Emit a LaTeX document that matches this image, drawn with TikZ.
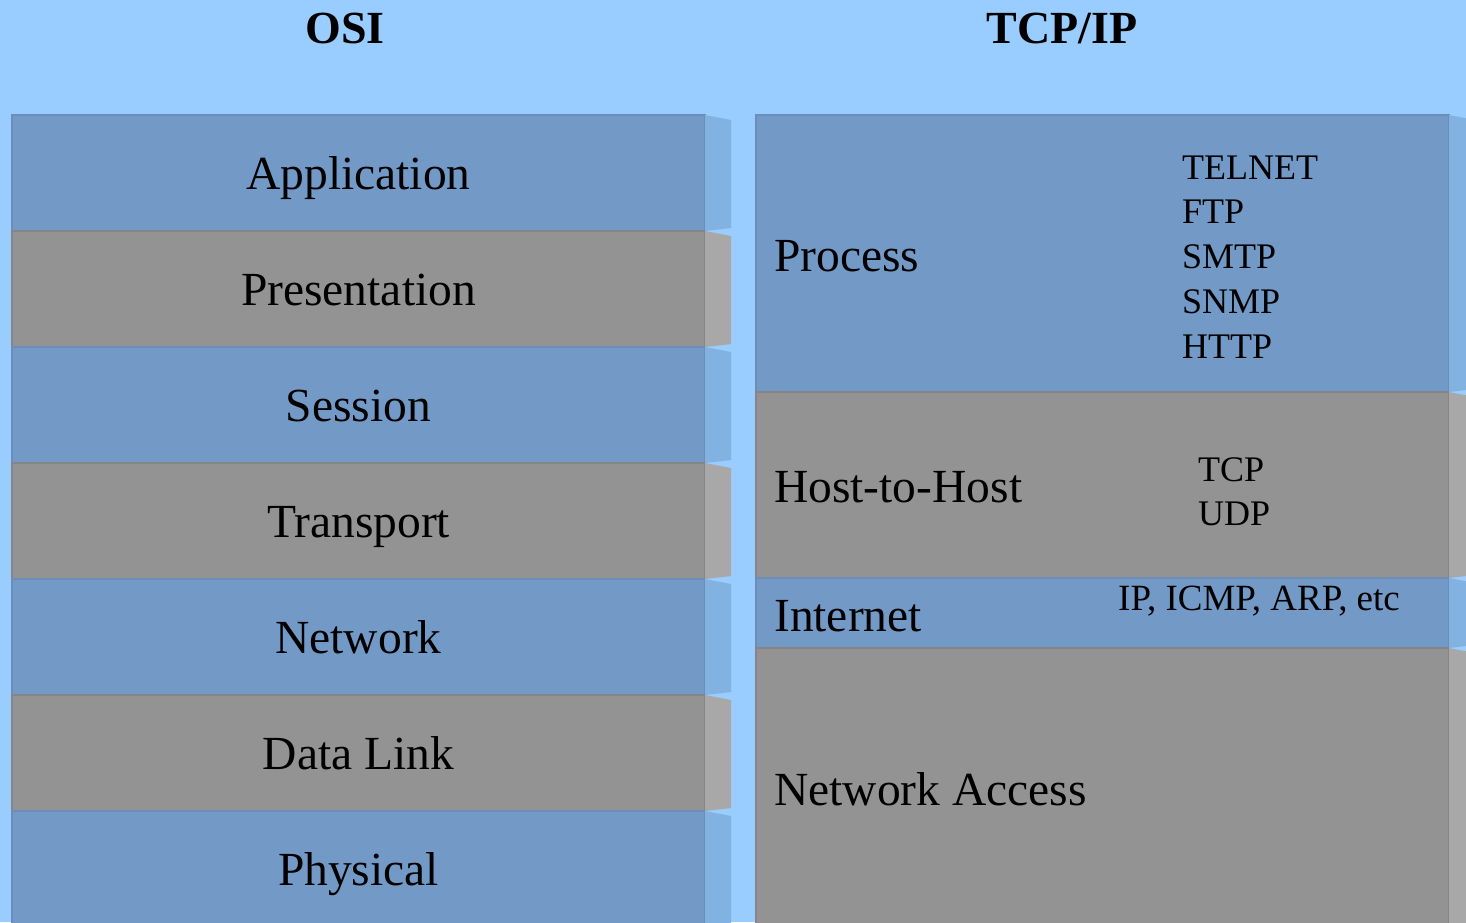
\documentclass[tikz,border=0pt]{standalone}
\usepackage{fontspec}
\setmainfont{Liberation Serif}
\usetikzlibrary{calc}

\definecolor{bg}{RGB}{153,204,255}
\definecolor{bluefront}{RGB}{115,154,198}
\definecolor{blueedge}{RGB}{106,142,184}
\definecolor{blueside}{RGB}{130,178,226}
\definecolor{grayfront}{RGB}{147,147,147}
\definecolor{grayedge}{RGB}{134,134,138}
\definecolor{grayside}{RGB}{168,168,168}

\tikzset{
  face/.style={rectangle, inner sep=0pt, outer sep=0pt, line width=1.4pt, anchor=north west},
  bluelayer/.style={face, fill=bluefront, draw=blueedge},
  graylayer/.style={face, fill=grayfront, draw=grayedge},
  osilayer/.style={minimum width=693pt, minimum height=116pt},
  title/.style={font=\fontsize{46}{50}\selectfont\bfseries, anchor=base, inner sep=0pt},
  layername/.style={font=\fontsize{47.5}{52}\selectfont, anchor=base, inner sep=0pt},
  tcpname/.style={font=\fontsize{47.5}{52}\selectfont, anchor=base west, inner sep=0pt},
  proto/.style={font=\fontsize{36}{40}\selectfont, anchor=base west, inner sep=0pt},
}

% right-hand side face of a layer block (slanted top and bottom edges)
\newcommand\layerside[2]{%
  \fill[#2] (#1.north east) -- ++(26,5) -- ($(#1.south east)+(26pt,3pt)$) -- (#1.south east) -- cycle;}

\begin{document}
\begin{tikzpicture}[x=1pt, y=-1pt]
  \useasboundingbox (0,0) rectangle (1466,922);
  \clip (0,0) rectangle (1466,922);
  \fill[bg] (0,0) rectangle (1466,922);

  % column titles
  \node[title] (osititle) at (345,43) {OSI};
  \node[title] (tcptitle) at (1062,43) {TCP/IP};

  % OSI stack
  \node[bluelayer, osilayer] (app)  at (12,115) {};
  \node[graylayer, osilayer] (pres) at (12,231) {};
  \node[bluelayer, osilayer] (sess) at (12,347) {};
  \node[graylayer, osilayer] (tran) at (12,463) {};
  \node[bluelayer, osilayer] (netw) at (12,579) {};
  \node[graylayer, osilayer] (dlnk) at (12,695) {};
  \node[bluelayer, osilayer] (phys) at (12,811) {};

  \layerside{app}{blueside}
  \layerside{pres}{grayside}
  \layerside{sess}{blueside}
  \layerside{tran}{grayside}
  \layerside{netw}{blueside}
  \layerside{dlnk}{grayside}
  \layerside{phys}{blueside}

  \node[layername] (lapp)  at (358.5,189) {Application};
  \node[layername] (lpres) at (358.5,305) {Presentation};
  \node[layername] (lsess) at (358.5,421) {Session};
  \node[layername] (ltran) at (358.5,537) {Transport};
  \node[layername] (lnetw) at (358.5,653) {Network};
  \node[layername] (ldlnk) at (358.5,769) {Data Link};
  \node[layername] (lphys) at (358.5,885) {Physical};

  % TCP/IP stack
  \node[bluelayer, minimum width=693pt, minimum height=277pt] (proc) at (756,115) {};
  \node[graylayer, minimum width=693pt, minimum height=186pt] (h2h)  at (756,392) {};
  \node[bluelayer, minimum width=693pt, minimum height=70pt]  (inet) at (756,578) {};
  \node[graylayer, minimum width=693pt, minimum height=290pt] (nacc) at (756,648) {};

  \layerside{proc}{blueside}
  \layerside{h2h}{grayside}
  \layerside{inet}{blueside}
  \layerside{nacc}{grayside}

  \node[tcpname] (lproc) at (774,271) {Process};
  \node[tcpname] (lh2h)  at (774,502) {Host-to-Host};
  \node[tcpname] (linet) at (774,631) {Internet};
  \node[tcpname] (lnacc) at (774,805) {Network Access};

  % protocols of each TCP/IP layer
  \node[proto] (telnet) at (1182,179) {TELNET};
  \node[proto] (ftp)    at (1182,223) {FTP};
  \node[proto] (smtp)   at (1182,268) {SMTP};
  \node[proto] (snmp)   at (1182,313) {SNMP};
  \node[proto] (http)   at (1182,358) {HTTP};
  \node[proto] (tcp)    at (1198,481) {TCP};
  \node[proto] (udp)    at (1198,525) {UDP};
  \node[proto, font=\fontsize{37}{40}\selectfont] (ipset) at (1118,610) {IP, ICMP, ARP, etc};
\end{tikzpicture}
\end{document}
